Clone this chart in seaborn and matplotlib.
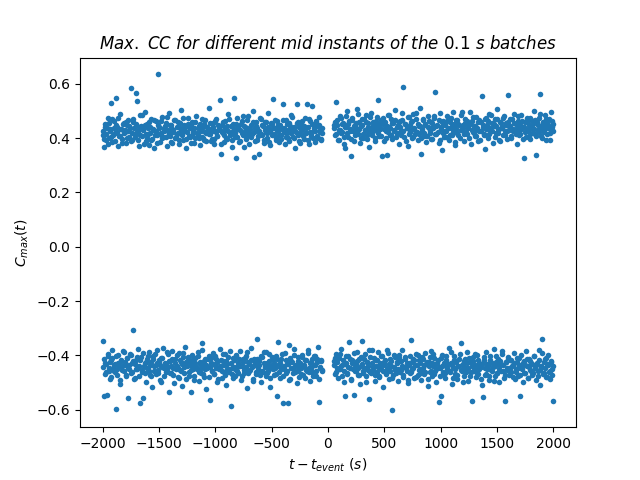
import numpy as np
import pandas as pd
import matplotlib
matplotlib.use('Agg')
import matplotlib.pyplot as plt
import seaborn as sns

# Max CC values (x1000), one per 0.1 s batch mid instant.
# "_a" batches: t = -2000 ... -50 s and 50 ... 2000 s
# "_b" batches: the ones in between (t = -1995 ... -55 s and 55 ... 1995 s)
pos_before_a = [
    412, 368, 451, 394, 437, 476, 402, 428, 530, 385, 463, 419, 548, 441, 373, 408, 489, 432, 396, 455,
    421, 381, 447, 468, 403, 436, 585, 392, 459, 414, 567, 537, 426, 372, 484, 445, 407, 433, 498, 389,
    452, 417, 376, 440, 471, 398, 429, 362, 465, 411, 635, 443, 387, 420, 479, 403, 438, 456, 371, 425,
    494, 409, 447, 383, 431, 467, 400, 415, 458, 379, 436, 505, 418, 392, 449, 427, 363, 474, 441, 405,
    384, 461, 423, 437, 399, 482, 413, 446, 375, 430, 469, 401, 454, 421, 388, 442, 510, 416, 434, 396,
    457, 378, 426, 472, 408, 439, 541, 340, 450, 419, 386, 463, 431, 397, 488, 412, 444, 369, 428, 548,
    404, 327, 475, 435, 391, 452, 418, 483, 366, 440, 409, 466, 425, 380, 447, 414, 499, 330, 436, 459,
    393, 427, 342, 470, 411, 445, 382, 458, 422, 401, 491, 433, 374, 451, 545, 416, 439, 395, 462, 428,
    385, 448, 410, 526, 437, 377, 467, 420, 399, 455, 431, 486, 406, 443, 364, 424, 526, 461, 389, 414,
    452, 435, 397, 473, 418, 526, 441, 380, 463, 409, 520, 429, 387, 456, 444, 402, 478, 421, 393, 437,
]
pos_before_b = [
    425, 398, 441, 417, 379, 456, 432, 404, 469, 413, 438, 391, 447, 422, 476, 409, 435, 383, 452, 418,
    430, 461, 400, 427, 445, 388, 419, 472, 436, 406, 454, 424, 395, 443, 411, 486, 429, 377, 448, 415,
    402, 439, 458, 420, 393, 433, 467, 410, 426, 381, 449, 437, 414, 462, 399, 428, 444, 405, 478, 431,
    416, 450, 387, 434, 423, 466, 403, 441, 419, 395, 457, 428, 412, 474, 436, 397, 421, 453, 408, 439,
    447, 411, 429, 382, 460, 418, 437, 400, 451, 426, 406, 443, 392, 468, 420, 433, 414, 455, 389, 427,
    440, 396, 463, 422, 409, 448, 431, 377, 424, 458, 413, 437, 401, 445, 428, 470, 416, 393, 451, 434,
    419, 452, 404, 441, 386, 430, 465, 412, 446, 425, 398, 438, 481, 417, 432, 403, 459, 423, 390, 444,
    436, 408, 427, 473, 415, 449, 394, 431, 461, 420, 443, 385, 426, 455, 410, 439, 466, 402, 429, 450,
    413, 442, 397, 434, 468, 421, 405, 453, 430, 388, 446, 418, 477, 433, 399, 425, 457, 411, 440, 384,
    429, 463, 407, 445, 418, 436, 392, 471, 424, 414, 452, 401, 438, 426, 464, 409, 447, 431, 396, 420,
]

neg_before_a = [
    -348, -551, -427, -462, -548, -403, -445, -489, -416, -381, -458, -432, -596, -471, -398, -440, -507, -421, -454, -386,
    -437, -475, -411, -559, -449, -394, -466, -428, -308, -483, -419, -452, -376, -441, -577, -407, -463, -559, -430, -498,
    -414, -446, -389, -472, -425, -518, -401, -459, -436, -380, -467, -423, -491, -409, -444, -372, -478, -431, -456, -397,
    -536, -420, -465, -384, -447, -503, -413, -438, -479, -392, -455, -426, -513, -405, -443, -369, -486, -418, -460, -433,
    -536, -399, -451, -476, -410, -442, -388, -494, -424, -465, -356, -437, -481, -415, -525, -447, -403, -566, -429, -459,
    -391, -470, -435, -414, -497, -452, -378, -440, -484, -421, -461, -396, -509, -432, -449, -385, -588, -468, -411, -443,
    -477, -404, -456, -430, -383, -492, -438, -415, -467, -449, -401, -521, -426, -459, -374, -444, -486, -412, -435, -470,
    -341, -453, -420, -499, -408, -462, -389, -441, -476, -428, -456, -395, -516, -436, -418, -471, -447, -402, -551, -352,
    -439, -482, -413, -577, -450, -393, -467, -431, -577, -363, -488, -422, -445, -378, -461, -434, -503, -407, -452, -427,
    -469, -398, -440, -485, -416, -457, -381, -448, -494, -425, -463, -403, -437, -478, -412, -370, -573, -446, -421, -459,
]
neg_before_b = [
    -442, -415, -468, -431, -397, -456, -424, -481, -409, -447, -435, -463, -401, -452, -428, -490, -418, -440, -384, -459,
    -426, -471, -411, -445, -437, -399, -462, -420, -486, -432, -450, -406, -443, -475, -417, -454, -391, -439, -466, -425,
    -448, -403, -457, -434, -478, -414, -441, -395, -469, -427, -453, -419, -436, -497, -409, -446, -430, -461, -388, -444,
    -421, -464, -438, -412, -473, -429, -452, -400, -445, -484, -416, -458, -433, -393, -467, -424, -441, -408, -476, -436,
    -455, -418, -439, -492, -427, -449, -404, -463, -431, -446, -382, -470, -422, -451, -437, -414, -479, -443, -410, -458,
    -433, -468, -402, -447, -425, -488, -440, -416, -457, -394, -436, -474, -421, -449, -407, -462, -430, -445, -483, -419,
    -450, -398, -443, -466, -413, -438, -477, -426, -455, -409, -442, -389, -464, -431, -453, -417, -494, -436, -423, -460,
    -412, -448, -435, -471, -401, -457, -428, -444, -386, -465, -439, -420, -482, -447, -405, -452, -433, -469, -415, -441,
    -463, -427, -450, -396, -475, -438, -418, -456, -432, -491, -411, -446, -424, -467, -399, -440, -458, -421, -480, -434,
    -445, -408, -472, -437, -419, -453, -390, -461, -429, -448, -414, -476, -436, -403, -459, -425, -487, -442, -417, -454,
]

pos_after_a = [
    447, 412, 534, 468, 395, 431, 482, 420, 453, 377, 364, 441, 499, 406, 462, 428, 334, 475, 390, 449,
    436, 508, 417, 458, 383, 444, 471, 402, 429, 487, 413, 455, 369, 438, 492, 421, 460, 399, 446, 478,
    541, 407, 433, 466, 334, 452, 388, 425, 338, 485, 440, 411, 469, 396, 457, 430, 503, 418, 448, 379,
    463, 427, 494, 589, 405, 451, 438, 372, 477, 423, 459, 401, 488, 434, 415, 470, 392, 445, 512, 342,
    428, 466, 409, 454, 386, 480, 437, 419, 461, 397, 443, 474, 570, 414, 450, 381, 491, 432, 356, 465,
    404, 448, 425, 483, 393, 459, 436, 411, 496, 442, 375, 468, 420, 453, 402, 486, 431, 447, 389, 472,
    457, 416, 439, 498, 378, 462, 424, 445, 408, 479, 434, 391, 467, 426, 556, 450, 412, 360, 473, 437,
    401, 488, 429, 455, 383, 446, 469, 418, 507, 433, 394, 461, 440, 413, 482, 427, 456, 398, 559, 444,
    471, 409, 435, 490, 421, 452, 380, 464, 431, 417, 485, 443, 327, 458, 405, 476, 426, 449, 396, 467,
    439, 501, 414, 338, 460, 430, 475, 563, 408, 447, 423, 484, 392, 456, 437, 470, 419, 495, 441, 452,
]
pos_after_b = [
    438, 461, 415, 447, 392, 429, 473, 421, 455, 406, 440, 483, 418, 452, 433, 397, 466, 426, 444, 411,
    456, 423, 489, 435, 402, 448, 417, 470, 430, 459, 396, 441, 425, 477, 413, 450, 437, 388, 464, 428,
    419, 452, 439, 408, 476, 432, 461, 399, 445, 421, 486, 436, 410, 455, 427, 467, 403, 442, 418, 458,
    443, 412, 468, 425, 451, 390, 437, 479, 416, 447, 431, 462, 405, 439, 493, 422, 454, 414, 446, 400,
    432, 470, 420, 449, 409, 441, 463, 427, 398, 457, 436, 481, 415, 446, 424, 466, 393, 440, 459, 418,
    451, 426, 404, 462, 437, 413, 475, 444, 421, 454, 387, 433, 468, 410, 448, 429, 497, 438, 416, 457,
    424, 465, 441, 400, 453, 430, 478, 419, 446, 407, 436, 461, 428, 395, 458, 442, 414, 471, 433, 449,
    462, 415, 437, 484, 426, 451, 403, 444, 469, 420, 434, 391, 457, 438, 476, 411, 447, 425, 460, 430,
    445, 401, 470, 428, 456, 417, 439, 482, 412, 448, 432, 464, 397, 443, 421, 459, 435, 408, 473, 440,
    418, 452, 434, 466, 409, 447, 424, 489, 436, 401, 458, 429, 444, 472, 416, 450, 394, 438, 463, 427,
]

neg_after_a = [
    -421, -468, -397, -445, -483, -410, -452, -376, -437, -499, -551, -428, -464, -403, -352, -447, -490, -419, -548, -458,
    -432, -386, -471, -414, -506, -441, -348, -459, -395, -478, -425, -453, -562, -407, -466, -382, -443, -496, -418, -461,
    -389, -476, -434, -450, -402, -517, -426, -465, -379, -448, -487, -413, -439, -603, -472, -398, -455, -430, -493, -409,
    -463, -421, -381, -480, -444, -405, -458, -502, -427, -467, -345, -449, -415, -485, -437, -396, -474, -419, -452, -491,
    -406, -446, -470, -391, -433, -512, -424, -460, -384, -477, -438, -411, -456, -497, -429, -573, -445, -551, -400, -468,
    -436, -482, -416, -451, -374, -462, -427, -505, -443, -401, -470, -420, -488, -439, -394, -356, -458, -431, -476, -412,
    -447, -389, -495, -425, -463, -569, -408, -454, -436, -481, -399, -468, -428, -444, -509, -555, -417, -473, -386, -452,
    -431, -490, -404, -459, -442, -378, -475, -423, -467, -413, -500, -437, -395, -456, -484, -569, -426, -448, -407, -471,
    -418, -461, -435, -393, -486, -450, -424, -477, -409, -551, -444, -498, -420, -464, -383, -439, -482, -414, -453, -429,
    -471, -402, -446, -491, -427, -458, -380, -510, -440, -341, -466, -415, -479, -433, -398, -462, -487, -423, -450, -569,
]
neg_after_b = [
    -437, -409, -463, -426, -452, -395, -441, -478, -418, -456, -432, -401, -469, -444, -413, -487, -429, -450, -390, -436,
    -458, -421, -445, -474, -406, -433, -466, -415, -448, -497, -425, -440, -382, -461, -430, -454, -411, -472, -438, -419,
    -443, -480, -427, -404, -459, -435, -416, -468, -449, -393, -431, -456, -420, -485, -442, -408, -464, -426, -451, -398,
    -420, -453, -439, -472, -412, -446, -428, -492, -434, -403, -460, -424, -447, -417, -479, -436, -399, -455, -430, -467,
    -450, -414, -437, -463, -424, -486, -441, -407, -457, -429, -395, -470, -433, -452, -418, -444, -476, -410, -439, -461,
    -428, -467, -403, -445, -432, -458, -389, -436, -482, -419, -451, -426, -471, -440, -412, -455, -435, -498, -422, -447,
    -462, -430, -448, -411, -475, -438, -421, -459, -396, -443, -467, -417, -452, -434, -488, -427, -405, -446, -470, -431,
    -439, -476, -416, -453, -428, -494, -441, -402, -465, -433, -449, -420, -457, -385, -437, -472, -424, -454, -413, -445,
    -455, -418, -440, -480, -427, -462, -409, -446, -435, -471, -400, -451, -429, -466, -437, -415, -484, -443, -422, -458,
    -431, -464, -404, -448, -436, -477, -419, -453, -442, -392, -468, -425, -446, -411, -481, -434, -457, -420, -473, -439,
]

# mid instants of the batches (s, relative to the event)
t_before_a = np.linspace(-2000, -50, len(pos_before_a))
t_before_b = np.linspace(-1995, -55, len(pos_before_b))
t_after_a = np.linspace(50, 2000, len(pos_after_a))
t_after_b = np.linspace(55, 1995, len(pos_after_b))

parts = [
    (t_before_a, pos_before_a), (t_before_b, pos_before_b),
    (t_before_a, neg_before_a), (t_before_b, neg_before_b),
    (t_after_a, pos_after_a), (t_after_b, pos_after_b),
    (t_after_a, neg_after_a), (t_after_b, neg_after_b),
]
df = pd.concat([pd.DataFrame({'t': t, 'cc': np.array(v) / 1000}) for t, v in parts],
               ignore_index=True)

plt.figure(figsize=(6.4, 4.8), dpi=100)
ax = sns.scatterplot(data=df, x='t', y='cc', color='#1f77b4', s=16, linewidth=0)
ax.set_xlabel(r'$t-t_{event}\ (s)$')
ax.set_ylabel(r'$C_{max}(t)$')
ax.set_title(r'$Max.\ CC\ for\ different\ mid\ instants\ of\ the\ 0.1\ s\ batches$')
plt.savefig('out.png', dpi=100)
